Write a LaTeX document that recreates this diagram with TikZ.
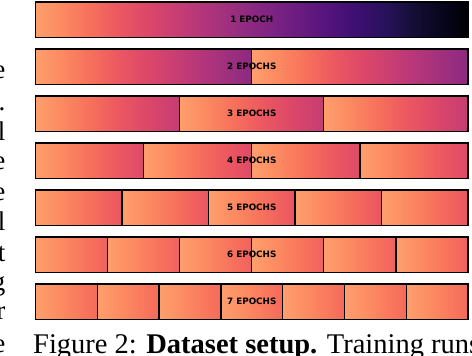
\documentclass[tikz,border=0pt]{standalone}
\usepackage{fontspec}
\setmainfont{Liberation Serif}
\newfontfamily\lblfont{DejaVu Sans}
\definecolor{mA}{RGB}{254,159,109}
\definecolor{mB}{RGB}{252,137,97}
\definecolor{mC}{RGB}{247,112,92}
\definecolor{mD}{RGB}{237,89,96}
\definecolor{mE}{RGB}{222,73,104}
\definecolor{mF}{RGB}{204,63,113}
\definecolor{mG}{RGB}{183,55,121}
\definecolor{mH}{RGB}{161,48,126}
\definecolor{mI}{RGB}{140,41,129}
\definecolor{mJ}{RGB}{120,33,130}
\definecolor{mK}{RGB}{100,26,128}
\definecolor{mL}{RGB}{81,18,124}
\definecolor{mM}{RGB}{59,15,112}
\definecolor{mN}{RGB}{38,18,89}
\definecolor{mO}{RGB}{20,14,54}
\definecolor{mP}{RGB}{8,6,29}
\definecolor{mQ}{RGB}{0,0,4}
\pgfdeclarehorizontalshading{magma}{100bp}{color(0bp)=(mA); color(25bp)=(mA);
 color(28.125bp)=(mB); color(31.25bp)=(mC); color(34.375bp)=(mD); color(37.5bp)=(mE);
 color(40.625bp)=(mF); color(43.75bp)=(mG); color(46.875bp)=(mH); color(50bp)=(mI);
 color(53.125bp)=(mJ); color(56.25bp)=(mK); color(59.375bp)=(mL); color(62.5bp)=(mM);
 color(65.625bp)=(mN); color(68.75bp)=(mO); color(71.875bp)=(mP); color(75bp)=(mQ);
 color(100bp)=(mQ)}
\begin{document}
\begin{tikzpicture}[x=1pt,y=-1pt,
  barframe/.style={line width=1.6pt, draw=black},
  divider/.style={line width=1.3pt, draw=black},
  lbl/.style={font=\lblfont\bfseries\fontsize{8.8}{10}\selectfont, inner sep=0pt, text=black},
  margintext/.style={font=\fontsize{27}{30}\selectfont, inner sep=0pt, anchor=base east},
  captext/.style={font=\fontsize{28.5}{32}\selectfont, inner sep=0pt, anchor=base west}]
\useasboundingbox (0,0) rectangle (472,356);
\fill[white] (0,0) rectangle (472,356);
\def\L{35.5}
\def\W{432.5}
\foreach \n in {1,...,7} {
  \pgfmathsetmacro\ytop{2+47*(\n-1)}
  \pgfmathsetmacro\ybot{\ytop+35.5}
  \pgfmathsetmacro\sw{\W/\n}
  \foreach \k in {1,...,\n} {
    \pgfmathsetmacro\xa{\L+(\k-1)*\sw}
    \pgfmathsetmacro\xb{\xa+\sw}
    \pgfmathsetmacro\xc{\xa+\W}
    \begin{scope}
      \clip (\xa,\ytop) rectangle (\xb,\ybot);
      \shade[shading=magma] (\xa,\ytop) rectangle (\xc,\ybot);
    \end{scope}
    \ifnum\k>1
      \draw[divider] (\xa,\ytop) -- (\xa,\ybot);
    \fi
  }
  \draw[barframe] (\L,\ytop) rectangle ({\L+\W},\ybot);
  \node[lbl] (lab\n) at ({\L+\W/2},{(\ytop+\ybot)/2}) {\n\ EPOCH\ifnum\n>1 S\fi};
}
\foreach \yy/\ch [count=\i] in {78/e,110/.,140/l,169/e,200/e,230/l,261/t,290/g,319/r,352/e}
  \node[margintext] (m\i) at (5.5,\yy) {\ch};
\node[captext] (cap) at (33,353.5) {Figure 2: \textbf{Dataset setup.} Training runs};
\end{tikzpicture}
\end{document}
